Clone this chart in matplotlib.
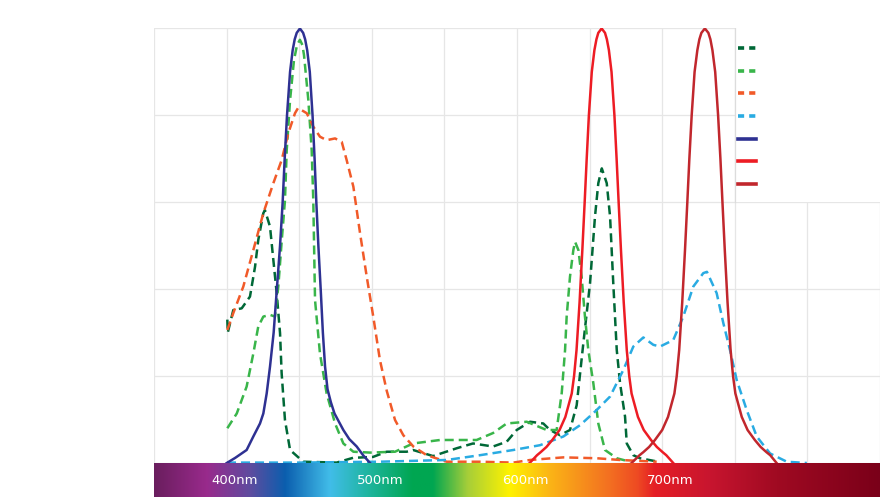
import matplotlib.pyplot as plt
import numpy as np
from matplotlib.colors import LinearSegmentedColormap
from matplotlib.lines import Line2D
from matplotlib.patches import Rectangle

# Relative spectral output, wavelength in nm
dkgreen_nm = [400.5, 400.8, 404.6, 410.4, 416.1, 419.6, 421.8, 425.3, 426.4, 429.9, 432.2, 434.5,
              436.8, 437.9, 440.2, 443.7, 452.8, 475.8, 487.1, 500.8, 510.3, 524.0, 528.4, 542.2,
              558.5, 569.7, 583.5, 592.9, 599.8, 609.0, 618.1, 622.7, 629.6, 636.5, 641.1, 645.7,
              650.3, 653.7, 656.0, 658.4, 661.8, 664.1, 666.3, 668.7, 671.0, 674.4, 675.6, 680.1,
              684.7, 697.3]
dkgreen_val = [0.33, 0.30, 0.352, 0.356, 0.383, 0.452, 0.513, 0.575, 0.582, 0.544, 0.467, 0.391,
               0.299, 0.207, 0.099, 0.030, 0.003, 0.001, 0.012, 0.014, 0.026, 0.026, 0.030, 0.016,
               0.034, 0.045, 0.038, 0.049, 0.076, 0.095, 0.091, 0.076, 0.064, 0.076, 0.133, 0.276,
               0.414, 0.567, 0.644, 0.678, 0.644, 0.567, 0.414, 0.260, 0.183, 0.107, 0.045, 0.018,
               0.011, 0.003]

ltgreen_nm = [400.5, 407.0, 413.8, 418.4, 421.8, 425.3, 429.9, 433.3, 435.6, 438.0, 440.2, 441.4,
              443.7, 446.4, 448.5, 450.5, 452.2, 453.3, 456.3, 458.6, 459.7, 460.9, 464.3, 468.9,
              474.7, 480.4, 487.3, 498.8, 516.0, 528.4, 547.0, 572.2, 583.5, 592.9, 606.7, 620.4,
              627.3, 630.8, 633.1, 634.2, 636.5, 638.8, 640.0, 642.3, 644.5, 646.8, 649.1, 652.6,
              656.0, 660.6, 668.7, 677.8]
ltgreen_val = [0.080, 0.114, 0.176, 0.252, 0.314, 0.337, 0.341, 0.337, 0.406, 0.513, 0.605, 0.720,
               0.835, 0.927, 0.962, 0.974, 0.962, 0.939, 0.835, 0.720, 0.605, 0.375, 0.252, 0.160,
               0.091, 0.045, 0.026, 0.024, 0.026, 0.045, 0.053, 0.053, 0.069, 0.091, 0.095, 0.076,
               0.076, 0.161, 0.260, 0.337, 0.429, 0.490, 0.509, 0.490, 0.429, 0.337, 0.260, 0.183,
               0.091, 0.030, 0.011, 0.003]

orange_nm = [400.5, 404.6, 411.5, 418.4, 425.3, 432.2, 437.9, 442.5, 447.1, 449.2, 455.2, 459.7,
             464.3, 468.9, 474.7, 479.3, 482.7, 487.3, 491.9, 496.5, 501.0, 505.6, 510.3, 516.0,
             521.7, 528.6, 537.8, 551.6, 574.5, 597.5, 609.0, 631.9, 654.9, 670.9, 696.2]
orange_val = [0.306, 0.345, 0.406, 0.490, 0.575, 0.644, 0.697, 0.759, 0.805, 0.817, 0.805, 0.774,
              0.751, 0.743, 0.747, 0.739, 0.697, 0.636, 0.529, 0.429, 0.337, 0.237, 0.166, 0.099,
              0.064, 0.038, 0.018, 0.003, 0.003, 0.001, 0.007, 0.013, 0.011, 0.007, 0.003]

ltblue_nm = [400.3, 450.5, 505.6, 551.6, 574.5, 597.5, 615.8, 631.9, 643.4, 654.9, 664.1, 673.2,
             680.1, 687.0, 693.9, 698.5, 707.6, 714.5, 721.4, 728.3, 730.8, 737.5, 742.1, 746.7,
             751.3, 758.2, 765.1, 774.3, 785.8, 799.6]
ltblue_val = [0.001, 0.001, 0.003, 0.007, 0.018, 0.030, 0.041, 0.061, 0.087, 0.122, 0.153, 0.214,
              0.268, 0.289, 0.272, 0.268, 0.283, 0.337, 0.406, 0.437, 0.440, 0.391, 0.322, 0.260,
              0.191, 0.122, 0.061, 0.022, 0.003, 0.0]

blue_nm = [400.1, 406.0, 413.8, 418.4, 423.0, 425.3, 427.6, 429.9, 432.4, 434.6, 436.8, 438.6,
           440.0, 441.6, 443.7, 445.5, 446.9, 448.3, 450.5, 452.7, 454.1, 455.5, 457.3, 459.2,
           460.6, 461.8, 463.2, 464.8, 466.3, 467.8, 469.5, 471.8, 474.3, 480.4, 484.5, 489.6,
           494.0, 498.8]
blue_val = [0.0, 0.012, 0.030, 0.061, 0.091, 0.114, 0.16, 0.222, 0.30, 0.40, 0.50, 0.60,
            0.70, 0.80, 0.90, 0.95, 0.975, 0.99, 1.0, 0.99, 0.975, 0.95, 0.90, 0.80,
            0.70, 0.60, 0.50, 0.40, 0.30, 0.222, 0.17, 0.14, 0.114, 0.076, 0.055, 0.038,
            0.018, 0.0]

red_nm = [608.7, 613.8, 616.3, 620.3, 624.3, 629.3, 633.3, 637.7, 639.3, 641.0, 643.1, 645.0,
          646.6, 648.0, 649.5, 651.5, 653.3, 654.7, 656.0, 658.3, 660.6, 661.9, 663.3, 665.1,
          667.1, 668.6, 670.0, 671.6, 673.5, 675.6, 677.3, 678.9, 683.3, 687.3, 692.3, 696.3,
          700.3, 702.8, 707.6]
red_val = [0.0, 0.018, 0.025, 0.037, 0.053, 0.076, 0.106, 0.16, 0.20, 0.26, 0.37, 0.49,
           0.60, 0.70, 0.80, 0.90, 0.95, 0.975, 0.99, 1.0, 0.99, 0.975, 0.95, 0.90,
           0.80, 0.70, 0.60, 0.49, 0.37, 0.26, 0.20, 0.16, 0.106, 0.076, 0.053, 0.037,
           0.025, 0.018, 0.0]

dkred_nm = [678.9, 684.4, 687.0, 691.0, 695.0, 700.0, 704.0, 708.4, 710.0, 711.7, 713.8, 715.7,
            717.3, 718.7, 720.3, 722.3, 724.2, 725.6, 727.0, 729.4, 731.8, 733.2, 734.6, 736.5,
            738.5, 740.1, 741.5, 743.1, 745.0, 747.1, 748.8, 750.4, 754.8, 758.8, 763.8, 767.8,
            771.8, 774.4, 778.8]
dkred_val = [0.0, 0.018, 0.025, 0.037, 0.053, 0.076, 0.106, 0.16, 0.20, 0.26, 0.37, 0.49,
             0.60, 0.70, 0.80, 0.90, 0.95, 0.975, 0.99, 1.0, 0.99, 0.975, 0.95, 0.90,
             0.80, 0.70, 0.60, 0.49, 0.37, 0.26, 0.20, 0.16, 0.106, 0.076, 0.053, 0.037,
             0.025, 0.018, 0.0]

# Spectrum bar colour stops
spec_nm = [350, 386, 416, 440, 471, 497, 528, 542, 566, 595, 623, 664, 683, 695, 733, 779, 850]
spec_col = ['#6a1e5e', '#992a8c', '#5e4c9f', '#0b5eae', '#41bde9', '#1fb5a0', '#00a651', '#00a651',
            '#a6ce39', '#fff200', '#fbb416', '#f36f21', '#ee4b23', '#e51e25', '#c8152f', '#a00a22',
            '#7a0019']
spec_labels = ['400nm', '500nm', '600nm', '700nm']
spec_label_nm = [400, 500, 600, 700]

fig = plt.figure(figsize=(8.8, 4.99), dpi=100)
ax = fig.add_axes([0.175, 0.0721, 0.825, 0.8708])

dash = (3.6, 2.0)
series = [
    (dkgreen_nm, dkgreen_val, '#006837', dash),
    (ltgreen_nm, ltgreen_val, '#39b54a', dash),
    (orange_nm, orange_val, '#f15a29', dash),
    (ltblue_nm, ltblue_val, '#29abe2', dash),
    (blue_nm, blue_val, '#2e3192', None),
    (red_nm, red_val, '#ed1c24', None),
    (dkred_nm, dkred_val, '#c1272d', None),
]
handles = []
for x, y, c, d in series:
    if d:
        ax.plot(x, y, color=c, lw=1.8, dashes=d)
        handles.append(Line2D([], [], color=c, lw=2.6, dashes=(1.7, 1.4)))
    else:
        ax.plot(x, y, color=c, lw=1.8)
        handles.append(Line2D([], [], color=c, lw=2.6))

ax.set_xlim(350, 850)
ax.set_ylim(0, 1)
ax.set_xticks(np.arange(350, 851, 50))
ax.set_yticks(np.arange(0, 1.01, 0.2))
ax.tick_params(length=0, labelbottom=False, labelleft=False)
ax.grid(True, color='#e6e6e6', lw=0.9)
ax.set_axisbelow(True)
for s in ax.spines.values():
    s.set_visible(False)

# white legend panel
ax.add_patch(Rectangle((750, 0.6), 100, 0.4, facecolor='white', edgecolor='none', zorder=1.5))
ax.plot([750, 750], [0.6, 1.0], color='#dcdcdc', lw=0.9, zorder=1.6)
ax.legend(handles, [' '] * 7, loc='upper left', bbox_to_anchor=(738 / 880, 1 - 42 / 499),
          bbox_transform=fig.transFigure, frameon=False, fontsize=10, handlelength=1.3,
          borderpad=0, borderaxespad=0, labelspacing=0.62, handletextpad=0.3)

# spectrum bar
cax = fig.add_axes([0.175, 0.004, 0.825, 0.068])
cmap = LinearSegmentedColormap.from_list(
    'spec', [((w - 350) / 500, c) for w, c in zip(spec_nm, spec_col)], N=512)
grad = np.linspace(0, 1, 512)[None, :]
cax.imshow(grad, aspect='auto', cmap=cmap, extent=[350, 850, 0, 1])
for lab, w in zip(spec_labels, spec_label_nm):
    cax.text(w + 5.5, 0.5, lab, color='white', fontsize=9.5, ha='center', va='center')
cax.set_xlim(350, 850)
cax.axis('off')

fig.savefig('out.png', dpi=100)
